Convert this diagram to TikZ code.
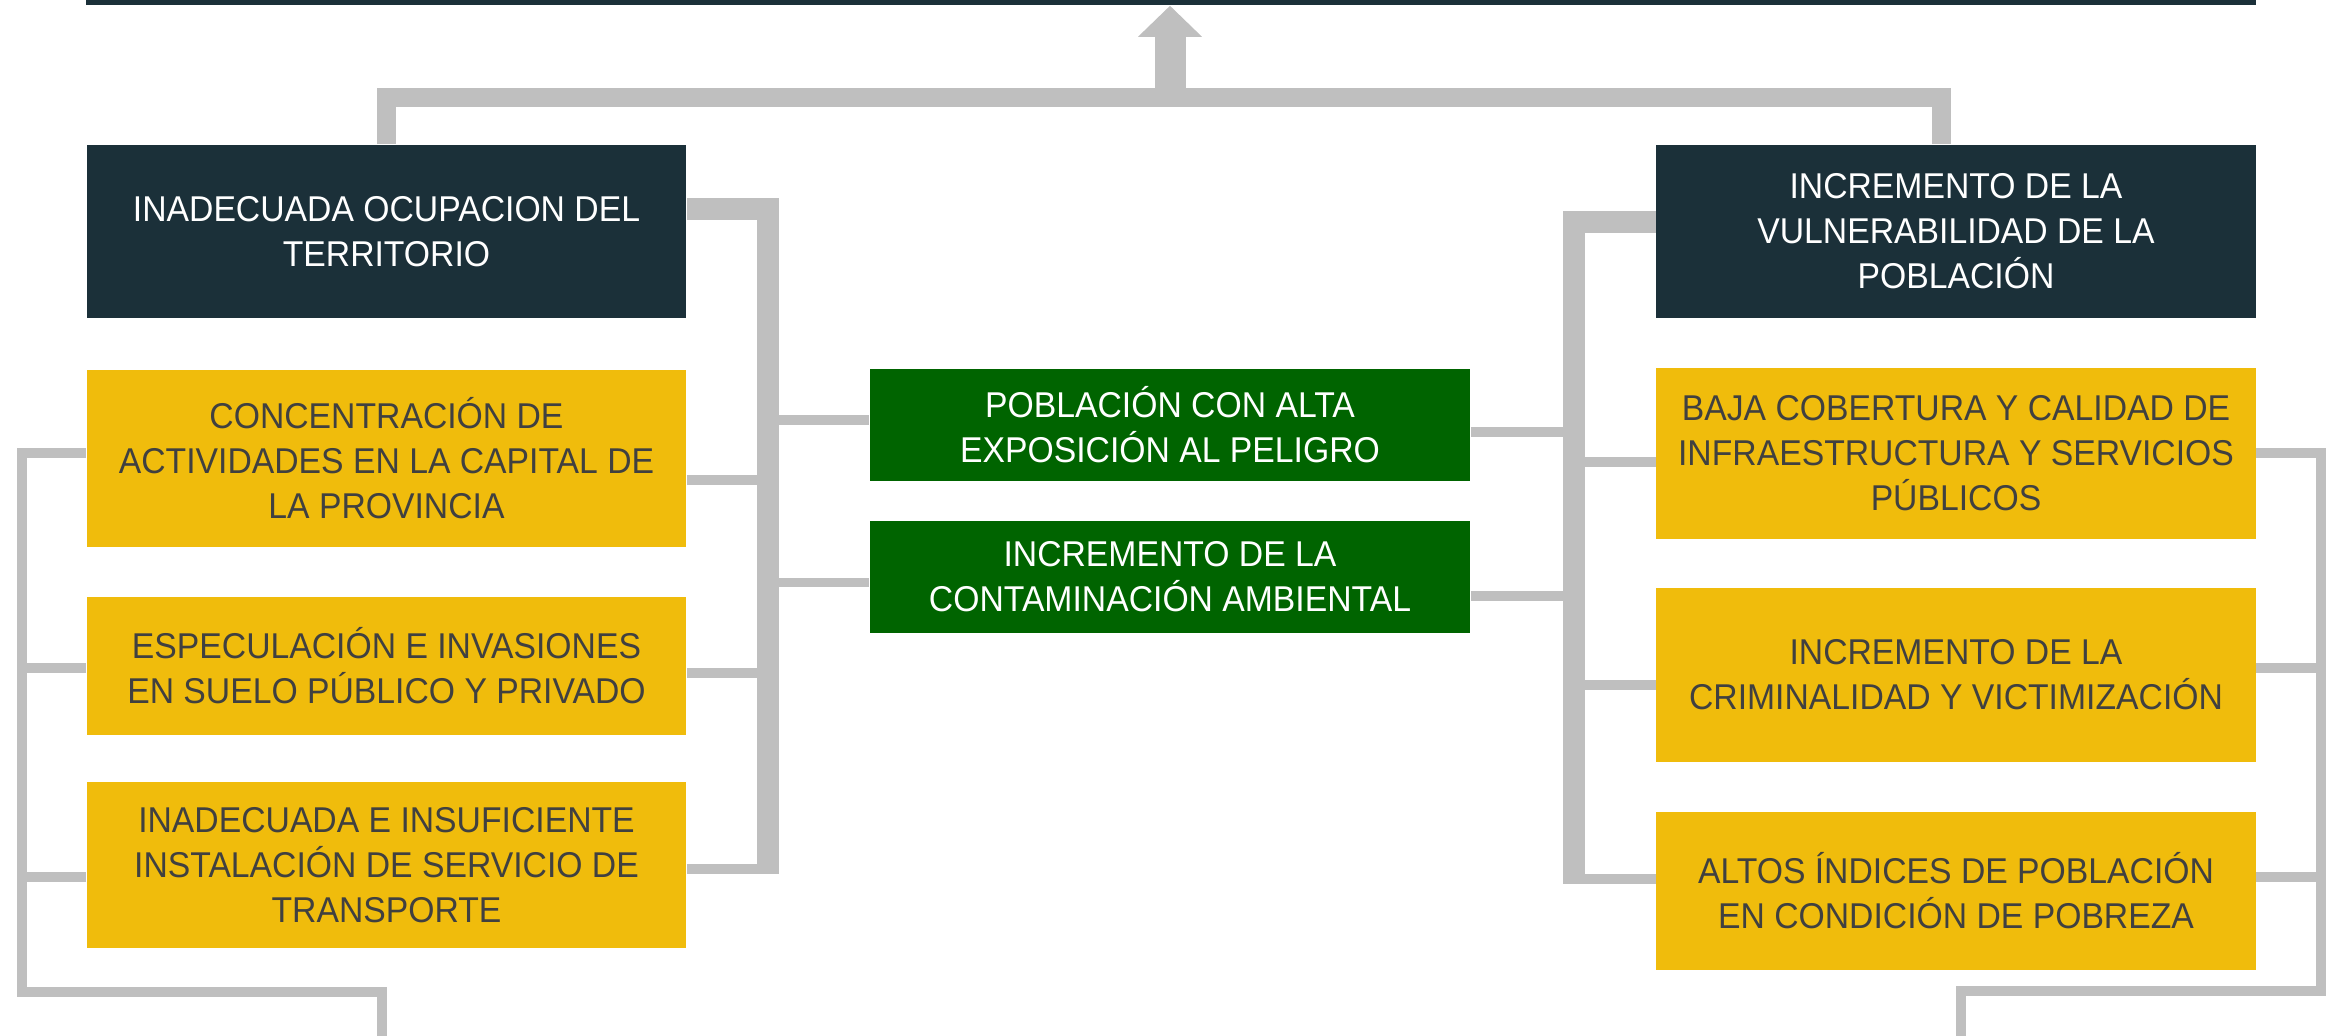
\documentclass[tikz,border=0pt]{standalone}
\usepackage{fontspec}
\setmainfont{Liberation Sans}[FakeStretch=0.94]
\usetikzlibrary{arrows.meta,positioning}
\definecolor{headdark}{HTML}{1B3039}
\definecolor{causeyellow}{HTML}{F0BC0C}
\definecolor{effectgreen}{HTML}{006400}
\definecolor{linkgray}{HTML}{BFBFBF}
\definecolor{textgray}{HTML}{404040}

\begin{document}
\begin{tikzpicture}[x=0.01cm,y=-0.01cm,
  every node/.style={font=\fontsize{10.2pt}{12.8pt}\selectfont,align=center,inner sep=0pt,minimum width=5.99cm},
  head/.style={fill=headdark,text=white,minimum height=1.73cm},
  cause/.style={fill=causeyellow,text=textgray},
  effect/.style={fill=effectgreen,text=white,minimum width=6cm},
  trunk/.style={draw=linkgray,line width=0.22cm},
  stub/.style={draw=linkgray,line width=0.095cm},
  toplink/.style={draw=linkgray,line width=0.19cm},
  uparrow/.style={draw=linkgray,line width=0.31cm,-{Triangle[length=0.31cm,width=0.62cm]}}]
  \clip (0,0) rectangle (2351,1035);
  % effect bar at the top, cut by the page
  \node[head,minimum width=21.68cm,minimum height=0.5cm] (efecto) at (1171,-20) {};
  % left branch
  \node[head] (ocup) at (386.5,231.5) {INADECUADA OCUPACION DEL\\TERRITORIO};
  \node[cause,minimum height=1.77cm] (conc) at (386.5,458.5) {CONCENTRACIÓN DE\\ACTIVIDADES EN LA CAPITAL DE\\LA PROVINCIA};
  \node[cause,minimum height=1.38cm] (espec) at (386.5,666) {ESPECULACIÓN E INVASIONES\\EN SUELO PÚBLICO Y PRIVADO};
  \node[cause,minimum height=1.66cm] (transp) at (386.5,865) {INADECUADA E INSUFICIENTE\\INSTALACIÓN DE SERVICIO DE\\TRANSPORTE};
  % middle
  \node[effect,minimum height=1.12cm] (pobl) at (1170,425) {POBLACIÓN CON ALTA\\EXPOSICIÓN AL PELIGRO};
  \node[effect,minimum height=1.12cm] (contam) at (1170,577) {INCREMENTO DE LA\\CONTAMINACIÓN AMBIENTAL};
  % right branch
  \node[head] (vuln) at (1956,231.5) {INCREMENTO DE LA\\VULNERABILIDAD DE LA\\POBLACIÓN};
  \node[cause,minimum height=1.71cm] (baja) at (1956,453.3) {BAJA COBERTURA Y CALIDAD DE\\INFRAESTRUCTURA Y SERVICIOS\\PÚBLICOS};
  \node[cause,minimum height=1.74cm] (crim) at (1956,675) {INCREMENTO DE LA\\CRIMINALIDAD Y VICTIMIZACIÓN};
  \node[cause,minimum height=1.58cm] (pobreza) at (1956,891) {ALTOS ÍNDICES DE POBLACIÓN\\EN CONDICIÓN DE POBREZA};

  \coordinate (hub) at (1170,97);
  \coordinate (outL) at (382,1040);
  \coordinate (outR) at (1961,1040);

  % top links
  \draw[toplink] (ocup.north) -- (386.5,97) -- (1941,97) -- (vuln.north -| 1941,0);
  \draw[uparrow] (hub) -- (hub |- efecto.south);

  % left trunk
  \draw[trunk] (ocup.east |- 0,209) -| (768,874);
  \draw[stub] (conc.east |- 0,480) -- (768,480);
  \draw[stub] (espec.east |- 0,673) -- (768,673);
  \draw[stub] (transp.east |- 0,869) -- (779,869);
  \draw[stub] (768,420) -- (pobl.west |- 0,420);
  \draw[stub] (768,582.5) -- (contam.west |- 0,582.5);
  % left bracket
  \draw[stub] (conc.west |- 0,453) -| (22,992) -| (outL);
  \draw[stub] (espec.west |- 0,668) -- (22,668);
  \draw[stub] (transp.west |- 0,877) -- (22,877);

  % right trunk
  \draw[trunk] (vuln.west |- 0,222) -| (1574,883);
  \draw[stub] (pobl.east |- 0,432) -- (1574,432);
  \draw[stub] (contam.east |- 0,596) -- (1574,596);
  \draw[stub] (baja.west |- 0,462) -- (1574,462);
  \draw[stub] (crim.west |- 0,685) -- (1574,685);
  \draw[stub] (pobreza.west |- 0,879) -- (1563,879);
  % right bracket
  \draw[stub] (baja.east |- 0,453) -| (2321,991) -| (outR);
  \draw[stub] (crim.east |- 0,668) -- (2321,668);
  \draw[stub] (pobreza.east |- 0,877) -- (2321,877);
\end{tikzpicture}
\end{document}
